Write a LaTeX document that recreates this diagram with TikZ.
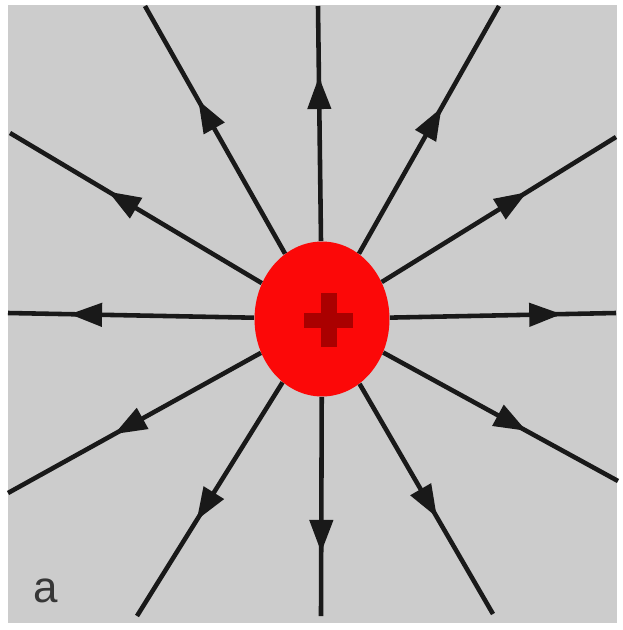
\documentclass[tikz,border=0pt]{standalone}
\usepackage{fontspec}
\setsansfont{Liberation Sans}
\usetikzlibrary{arrows.meta,shapes.geometric,decorations.markings}
\definecolor{papergray}{RGB}{204,204,204}
\definecolor{chargered}{RGB}{252,8,8}
\definecolor{plusred}{RGB}{170,0,0}
\definecolor{labelgray}{RGB}{55,55,55}
\tikzset{
  fieldline/.style={line width=2.6pt,draw=black!90,postaction={decorate},
    decoration={markings,
      mark=at position #1 with {\arrow{Triangle[length=6.5mm,width=4.6mm]}}}},
}

\begin{document}
\begin{tikzpicture}[x=0.02cm,y=-0.02cm]
  \useasboundingbox (0,0) rectangle (623,630);
  \fill[papergray] (8,5) rectangle (617,623);
  % positive charge
  \node[ellipse,fill=chargered,minimum width=2.7cm,minimum height=3.1cm,
        inner sep=0pt] (charge) at (322,319) {};
  \fill[plusred] (304,313) rectangle (353,328);
  \fill[plusred] (321,293) rectangle (337,347);
  % outer ends of the field lines
  \coordinate (n)   at (318,6);
  \coordinate (nnw) at (145,6);
  \coordinate (nne) at (499,6);
  \coordinate (wnw) at (10,133);
  \coordinate (ene) at (616,137);
  \coordinate (w)   at (8,313);
  \coordinate (e)   at (616,313);
  \coordinate (wsw) at (8,493);
  \coordinate (ese) at (618,481);
  \coordinate (ssw) at (137,616);
  \coordinate (s)   at (321,616);
  \coordinate (sse) at (493,614);
  \foreach \e/\p in {n/0.70,nnw/0.62,nne/0.59,wnw/0.61,ene/0.62,w/0.75,
                     e/0.76,wsw/0.58,ese/0.61,ssw/0.59,s/0.71,sse/0.58}
    \draw[fieldline=\p] (charge) -- (\e);
  \node[font=\sffamily\fontsize{25}{25}\selectfont,text=labelgray]
    (tag) at (46,591) {a};
\end{tikzpicture}
\end{document}
